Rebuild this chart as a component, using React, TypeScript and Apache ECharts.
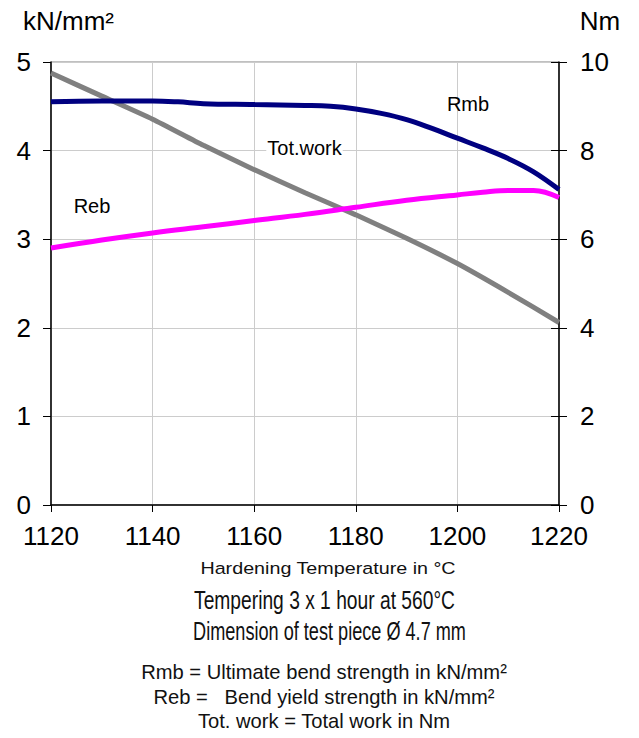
import React, { useEffect, useRef } from "react";
import * as echarts from "echarts";

const temps = [1120, 1130, 1140, 1145, 1150, 1160, 1170, 1175, 1180, 1185, 1190, 1195, 1200, 1205, 1210, 1215, 1220];
const rmb = [4.55, 4.56, 4.56, 4.55, 4.53, 4.52, 4.51, 4.5, 4.47, 4.42, 4.35, 4.25, 4.14, 4.03, 3.91, 3.76, 3.56];

const rebTemps = [1120, 1130, 1140, 1150, 1160, 1170, 1180, 1190, 1200, 1205, 1210, 1215, 1220];
const reb = [2.9, 2.99, 3.07, 3.14, 3.21, 3.28, 3.36, 3.44, 3.5, 3.53, 3.55, 3.55, 3.47];

const workTemps = [1120, 1130, 1140, 1150, 1160, 1170, 1180, 1190, 1200, 1210, 1220];
const totWork = [9.75, 9.23, 8.71, 8.12, 7.57, 7.05, 6.55, 6.02, 5.45, 4.8, 4.12];

const xTitle = "Hardening Temperature in °C";
const captionLines = [
  "Tempering 3 x 1 hour at 560°C",
  "Dimension of test piece Ø 4.7 mm",
];
const legendLines = [
  "Rmb = Ultimate bend strength in kN/mm²",
  "Reb =   Bend yield strength in kN/mm²",
  "Tot. work = Total work in Nm",
];

const ARIAL = "'Liberation Sans', Arial, sans-serif";

export default function App() {
  const ref = useRef<HTMLDivElement>(null);
  useEffect(() => {
    if (!ref.current) return;
    const chart = echarts.init(ref.current, undefined, { renderer: "svg" });
    const pair = (xs: number[], ys: number[]) => xs.map((x, i) => [x, ys[i]]);
    const captionScale = [0.754, 0.711];
    const captionX = [324.5, 329.5];
    const captionY = [601, 631];
    const legendY = [671.5, 696.5, 720.5];
    chart.setOption({
      animation: false,
      backgroundColor: "#ffffff",
      grid: { left: 51, right: 80, top: 62, bottom: 233, show: true, borderColor: "#808080", borderWidth: 1 },
      xAxis: {
        type: "value",
        min: 1120,
        max: 1220,
        interval: 20,
        axisLine: { show: true, lineStyle: { color: "#000", width: 1.5 } },
        axisTick: { show: true, length: 7, lineStyle: { color: "#000" } },
        axisLabel: { fontSize: 26, color: "#000", fontFamily: ARIAL, margin: 18, formatter: (v: number) => String(v) },
        splitLine: { show: true, lineStyle: { color: "#cccccc", width: 1 } },
      },
      yAxis: [
        {
          type: "value",
          min: 0,
          max: 5,
          interval: 1,
          name: "kN/mm²",
          nameLocation: "end",
          nameGap: 28,
          nameTextStyle: { fontSize: 26, color: "#000", fontFamily: ARIAL, align: "center", padding: [0, 0, 0, 35] },
          axisLine: { show: true, lineStyle: { color: "#000", width: 1.5 } },
          axisTick: { show: true, length: 8, lineStyle: { color: "#000" } },
          axisLabel: { fontSize: 26, color: "#000", fontFamily: ARIAL, margin: 20 },
          splitLine: { show: true, lineStyle: { color: "#cccccc", width: 1 } },
        },
        {
          type: "value",
          position: "right",
          min: 0,
          max: 10,
          interval: 2,
          name: "Nm",
          nameLocation: "end",
          nameGap: 28,
          nameTextStyle: { fontSize: 26, color: "#000", fontFamily: ARIAL, align: "center", padding: [0, 0, 0, 82] },
          axisLine: { show: true, lineStyle: { color: "#000", width: 1.5 } },
          axisTick: { show: true, length: 8, lineStyle: { color: "#000" } },
          axisLabel: { fontSize: 26, color: "#000", fontFamily: ARIAL, margin: 21 },
          splitLine: { show: false },
        },
        {
          type: "value",
          position: "right",
          min: 0,
          max: 10,
          interval: 2,
          axisLine: { show: false },
          axisTick: { show: true, inside: true, length: 8, lineStyle: { color: "#000" } },
          axisLabel: { show: false },
          splitLine: { show: false },
        },
      ],
      series: [
        {
          name: "Tot.work",
          type: "line",
          yAxisIndex: 1,
          data: pair(workTemps, totWork),
          smooth: 0.2,
          symbol: "none",
          lineStyle: { color: "#808080", width: 5 },
          z: 3,
        },
        {
          name: "Reb",
          type: "line",
          yAxisIndex: 0,
          data: pair(rebTemps, reb),
          smooth: 0.4,
          symbol: "none",
          lineStyle: { color: "#ff00ff", width: 5 },
          z: 4,
        },
        {
          name: "Rmb",
          type: "line",
          yAxisIndex: 0,
          data: pair(temps, rmb),
          smooth: 0.4,
          symbol: "none",
          lineStyle: { color: "#000080", width: 5 },
          z: 5,
        },
      ],
      graphic: [
        { type: "text", x: 468, y: 104, z: 10, style: { text: "Rmb", font: `20px ${ARIAL}`, fill: "#000", align: "center", verticalAlign: "middle" } },
        { type: "text", x: 304.5, y: 147.5, z: 10, style: { text: "Tot.work", font: `20px ${ARIAL}`, fill: "#000", align: "center", verticalAlign: "middle", backgroundColor: "#fff", padding: [0, 1] } },
        { type: "text", x: 92, y: 206, z: 10, style: { text: "Reb", font: `20px ${ARIAL}`, fill: "#000", align: "center", verticalAlign: "middle" } },
        { type: "text", x: 328, y: 569, scaleX: 1.196, style: { text: xTitle, font: `16.5px ${ARIAL}`, fill: "#111", align: "center", verticalAlign: "middle" } },
        ...captionLines.map((t, i) => ({
          type: "text", x: captionX[i], y: captionY[i], scaleX: captionScale[i],
          style: { text: t, font: `25.5px ${ARIAL}`, fill: "#111", align: "center", verticalAlign: "middle" },
        })),
        ...legendLines.map((t, i) => ({
          type: "text", x: 324, y: legendY[i], scaleX: 0.96,
          style: { text: t, font: `21px ${ARIAL}`, fill: "#111", align: "center", verticalAlign: "middle" },
        })),
      ],
    });
    return () => chart.dispose();
  }, []);
  return <div ref={ref} style={{ width: 639, height: 738, position: "absolute", left: 0, top: 0 }} />;
}
